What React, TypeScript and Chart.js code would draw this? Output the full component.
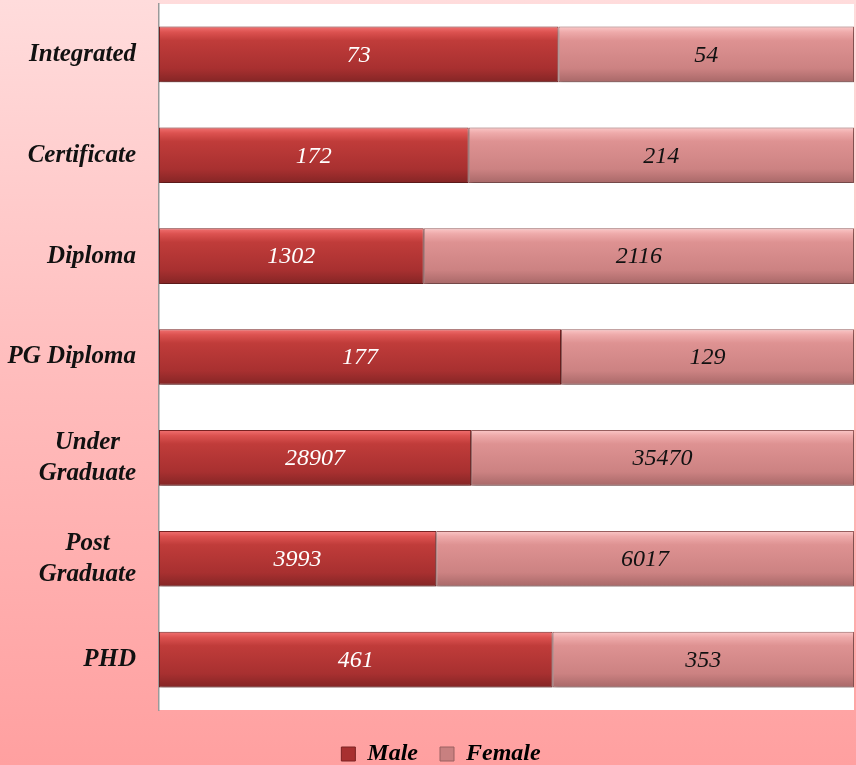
import React, { useEffect, useRef } from "react";
import { Chart, registerables } from "chart.js";

Chart.register(...registerables);

const categories: (string | string[])[] = [
  "Integrated",
  "Certificate",
  "Diploma",
  "PG Diploma",
  ["Under", "Graduate"],
  ["Post", "Graduate"],
  "PHD",
];
const maleValues = [73, 172, 1302, 177, 28907, 3993, 461];
const femaleValues = [54, 214, 2116, 129, 35470, 6017, 353];
const seriesNames = ["Male", "Female"];

const FONT = "'Liberation Serif', 'DejaVu Serif', serif";
const LABEL_FONT = `italic bold 25px ${FONT}`;
const LABEL_LINE = 31;
const LABEL_RIGHT = 136;

function pct(a: number[], b: number[], i: number) {
  return (a[i] / (a[i] + b[i])) * 100;
}

const malePct = maleValues.map((_, i) => pct(maleValues, femaleValues, i));
const femalePct = femaleValues.map((_, i) => pct(femaleValues, maleValues, i));
const rawSeries = [maleValues, femaleValues];

const BAR_PCT = 0.69;
const CAT_PCT = 0.8;

function barGradient(ctx: any, stops: [number, string][], fallback: string) {
  const chart = ctx.chart;
  const y = chart.scales?.y;
  if (!y || ctx.dataIndex === undefined || !chart.chartArea) return fallback;
  const center = y.getPixelForValue(ctx.dataIndex);
  const half = ((y.height / categories.length) * BAR_PCT * CAT_PCT) / 2;
  const g = chart.ctx.createLinearGradient(0, center - half, 0, center + half);
  stops.forEach(([o, c]) => g.addColorStop(o, c));
  return g;
}

const maleStops: [number, string][] = [
  [0, "#f27272"],
  [0.1, "#dc5250"],
  [0.25, "#c03c3a"],
  [0.75, "#a83030"],
  [1, "#842525"],
];
const femaleStops: [number, string][] = [
  [0, "#fbc8c8"],
  [0.1, "#eeaaaa"],
  [0.25, "#de9292"],
  [0.75, "#cc8282"],
  [1, "#a86868"],
];

const plotBgPlugin = {
  id: "plotBg",
  afterLayout(chart: any) {
    const lg = chart.legend;
    if (lg) {
      lg.left += 14;
      lg.right += 14;
    }
  },
  beforeDraw(chart: any) {
    const { ctx, chartArea } = chart;
    if (!chartArea) return;
    ctx.save();
    ctx.fillStyle = "#ffffff";
    ctx.fillRect(chartArea.left, chartArea.top, chartArea.right - chartArea.left, chartArea.bottom - chartArea.top);
    ctx.restore();
  },
  beforeDatasetsDraw(chart: any) {
    const ctx = chart.ctx;
    ctx.save();
    ctx.shadowColor = "rgba(0,0,0,0.28)";
    ctx.shadowBlur = 4;
    ctx.shadowOffsetY = 3;
    ctx.shadowOffsetX = 1;
  },
  afterDatasetsDraw(chart: any) {
    const ctx = chart.ctx;
    ctx.restore();
    ctx.save();
    ctx.font = `italic 24px ${FONT}`;
    ctx.textAlign = "center";
    ctx.textBaseline = "middle";
    chart.data.datasets.forEach((ds: any, di: number) => {
      const meta = chart.getDatasetMeta(di);
      ctx.fillStyle = di === 0 ? "#ffffff" : "#111111";
      meta.data.forEach((el: any, i: number) => {
        const x = (el.x + el.base) / 2;
        ctx.fillText(String(rawSeries[di][i]), x, el.y + 1);
      });
    });
    ctx.restore();
  },
  afterDraw(chart: any) {
    const ctx = chart.ctx;
    const y = chart.scales.y;
    ctx.save();
    ctx.font = LABEL_FONT;
    ctx.fillStyle = "#111111";
    ctx.textAlign = "center";
    ctx.textBaseline = "middle";
    (chart.data.labels as (string | string[])[]).forEach((lab, i) => {
      const lines = Array.isArray(lab) ? lab : [lab];
      const w = Math.max(...lines.map((l) => ctx.measureText(l).width));
      const cx = LABEL_RIGHT - w / 2;
      const cy = y.getPixelForValue(i);
      const top = cy - ((lines.length - 1) * LABEL_LINE) / 2;
      lines.forEach((l, k) => ctx.fillText(l, cx, top + k * LABEL_LINE));
    });
    ctx.restore();
  },
};

export default function App() {
  const ref = useRef<HTMLCanvasElement | null>(null);
  useEffect(() => {
    if (!ref.current) return;
    const chart = new Chart(ref.current, {
      type: "bar",
      data: {
        labels: categories,
        datasets: [
          {
            label: seriesNames[0],
            data: malePct,
            backgroundColor: (c: any) => barGradient(c, maleStops, "#b83535"),
            borderColor: "#7a2222",
            borderWidth: 1,
            borderSkipped: false,
            barPercentage: BAR_PCT,
            categoryPercentage: CAT_PCT,
          },
          {
            label: seriesNames[1],
            data: femalePct,
            backgroundColor: (c: any) => barGradient(c, femaleStops, "#d48888"),
            borderColor: "#9a6060",
            borderWidth: 1,
            borderSkipped: false,
            barPercentage: BAR_PCT,
            categoryPercentage: CAT_PCT,
          },
        ],
      },
      options: {
        indexAxis: "y",
        animation: false,
        responsive: false,
        maintainAspectRatio: false,
        layout: { padding: { top: 4, right: 2, left: 0, bottom: -11 } },
        scales: {
          x: {
            stacked: true,
            min: 0,
            max: 100,
            display: true,
            grid: { display: false, drawTicks: false },
            border: { display: false },
            ticks: { display: false },
            afterFit(scale: any) {
              scale.height = 10;
              scale.paddingLeft = 0;
              scale.paddingRight = 0;
            },
          },
          y: {
            stacked: true,
            grid: { display: false, drawTicks: false },
            border: { display: true, color: "#9a9a9a", width: 1.5 },
            ticks: { display: false },
            afterFit(scale: any) {
              scale.width = 159;
              scale.paddingTop = 0;
              scale.paddingBottom = 0;
            },
          },
        },
        plugins: {
          tooltip: { enabled: false },
          legend: {
            position: "bottom",
            labels: {
              color: "#111111",
              boxWidth: 14,
              boxHeight: 14,
              padding: 22,
              font: { family: FONT, size: 24, style: "italic", weight: "bold" },
              generateLabels: () => [
                { text: seriesNames[0], fillStyle: "#a83030", strokeStyle: "#7a2222", lineWidth: 1, datasetIndex: 0 },
                { text: seriesNames[1], fillStyle: "#c88080", strokeStyle: "#9a6060", lineWidth: 1, datasetIndex: 1 },
              ] as any,
            },
          },
        },
      },
      plugins: [plotBgPlugin],
    } as any);
    return () => chart.destroy();
  }, []);
  return (
    <div
      style={{
        position: "fixed",
        left: 0,
        top: 0,
        width: 856,
        height: 765,
        background: "linear-gradient(to bottom, #ffdcdc 0%, #ffbcbc 50%, #ffa0a0 100%)",
      }}
    >
      <canvas ref={ref} width={856} height={765} style={{ display: "block" }} />
    </div>
  );
}
